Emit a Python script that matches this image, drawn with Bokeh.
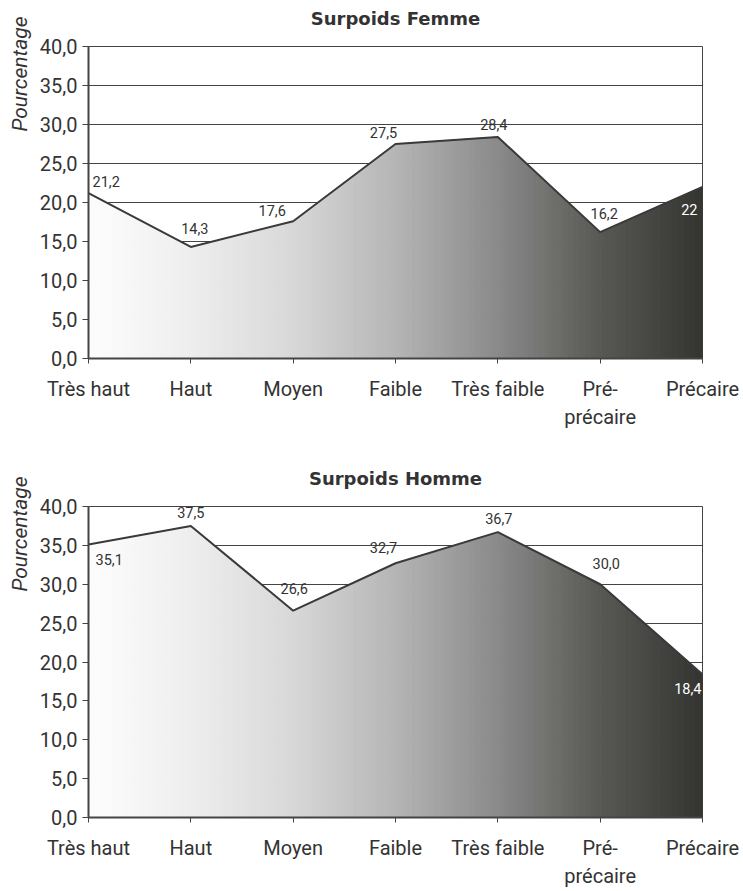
import numpy as np
from bokeh.plotting import figure
from bokeh.layouts import column
from bokeh.models import Range1d, FixedTicker, Title, ColumnDataSource
from bokeh.core.properties import value
from bokeh.embed import file_html
from bokeh.resources import INLINE

# ---------------- data ----------------
categories = ["Très haut", "Haut", "Moyen", "Faible", "Très faible", "Pré-\nprécaire", "Précaire"]
femme = [21.2, 14.3, 17.6, 27.5, 28.4, 16.2, 22.0]
femme_labels = ["21,2", "14,3", "17,6", "27,5", "28,4", "16,2", "22"]
homme = [35.1, 37.5, 26.6, 32.7, 36.7, 30.0, 18.4]
homme_labels = ["35,1", "37,5", "26,6", "32,7", "36,7", "30,0", "18,4"]
y_ticks = [0, 5, 10, 15, 20, 25, 30, 35, 40]
y_tick_labels = ["0,0", "5,0", "10,0", "15,0", "20,0", "25,0", "30,0", "35,0", "40,0"]

# ---------------- style ----------------
FONT = "Roboto"
TXT = "#333333"
LINE = "#3a3a3a"
# gradient stops (position along x in category units, gray level)
GRAD_POS = [0, 1, 2, 3, 4, 5, 6]
GRAD_GRAY = [253, 238, 216, 181, 138, 88, 52]
STRIPS_PER_SEG = 30

# per-label placement (screen px offsets, alignment, colour)
femme_style = dict(
    dx=[4, 4, -21, -12, -4, 4, -5],
    dy=[-12, -18, -11, -12, -12, -19, 23],
    align=["left", "center", "center", "center", "center", "center", "right"],
    color=[TXT, TXT, TXT, TXT, TXT, TXT, "white"],
)
homme_style = dict(
    dx=[7, 0, 1, -12, 1, 6, -1],
    dy=[15, -13, -22, -16, -14, -21, 14],
    align=["left", "center", "center", "center", "center", "center", "right"],
    color=[TXT, TXT, TXT, TXT, TXT, TXT, "white"],
)


def make_chart(title, vals, labels, st, height, border_bottom):
    p = figure(width=743, height=height, x_range=Range1d(0, 6), y_range=Range1d(0, 40),
               output_backend="svg", toolbar_location=None,
               min_border_left=88, min_border_right=41, min_border_top=46,
               min_border_bottom=border_bottom,
               background_fill_color="white", border_fill_color="white")

    # main title (outermost) plus an empty spacer title between it and the frame
    p.title.text = title
    p.title.align = "center"
    p.title.text_font = "DejaVu Sans"
    p.title.text_font_size = "18px"
    p.title.text_font_style = "bold"
    p.title.text_color = TXT
    p.title.standoff = 2
    p.add_layout(Title(text=" ", text_font_size="10px", standoff=4), "above")

    ylab = Title(text="Pourcentage", align="right", offset=-30, text_font=FONT,
                 text_font_size="21px", text_font_style="italic", text_color=TXT)
    p.add_layout(ylab, "left")

    # gradient area drawn as thin vertical strips
    xi = np.arange(len(vals))
    edges = np.linspace(0, len(vals) - 1, (len(vals) - 1) * STRIPS_PER_SEG + 1)
    sx, sy, cols = [], [], []
    for a, b in zip(edges[:-1], edges[1:]):
        ya, yb = np.interp([a, b], xi, vals)
        sx.append([a, a, b, b])
        sy.append([0, ya, yb, 0])
        g = int(round(np.interp((a + b) / 2, GRAD_POS, GRAD_GRAY)))
        cols.append("#%02x%02x%02x" % (g, g, max(g - 3, 0) if g < 120 else g))
    p.patches(sx, sy, fill_color=cols, line_color=cols, line_width=1)

    p.line(list(xi), vals, line_color=LINE, line_width=2)

    src = ColumnDataSource(dict(x=list(xi), y=vals, t=labels, dx=st["dx"], dy=st["dy"],
                                al=st["align"], c=st["color"]))
    p.text("x", "y", text="t", source=src, x_offset="dx", y_offset="dy",
           text_align="al", text_color="c", text_baseline="middle",
           text_font=value(FONT), text_font_size="14.5px")

    p.xgrid.visible = False
    p.ygrid.ticker = FixedTicker(ticks=y_ticks)
    p.ygrid.grid_line_color = "#444444"
    p.ygrid.grid_line_width = 1
    p.outline_line_color = "#444444"
    p.outline_line_width = 1

    p.xaxis.ticker = FixedTicker(ticks=list(xi))
    p.xaxis.major_label_overrides = {int(i): c for i, c in zip(xi, categories)}
    p.yaxis.ticker = FixedTicker(ticks=y_ticks)
    p.yaxis.major_label_overrides = {t: l for t, l in zip(y_ticks, y_tick_labels)}
    for ax in (p.xaxis, p.yaxis):
        ax.axis_line_color = "#444444"
        ax.axis_line_width = 2
        ax.major_tick_line_color = "#444444"
        ax.major_tick_in = 0
        ax.minor_tick_line_color = None
        ax.major_label_text_font = FONT
        ax.major_label_text_font_size = "20px"
        ax.major_label_text_color = TXT
    p.xaxis.major_tick_out = 5
    p.xaxis.major_label_standoff = 13
    p.yaxis.major_tick_out = 6
    p.yaxis.major_label_standoff = 5
    return p


p1 = make_chart("Surpoids Femme", femme, femme_labels, femme_style, 460, 102)
p2 = make_chart("Surpoids Homme", homme, homme_labels, homme_style, 431, 73)
layout = column(p1, p2, spacing=0)

open("out.html", "w").write(file_html(layout, INLINE))
